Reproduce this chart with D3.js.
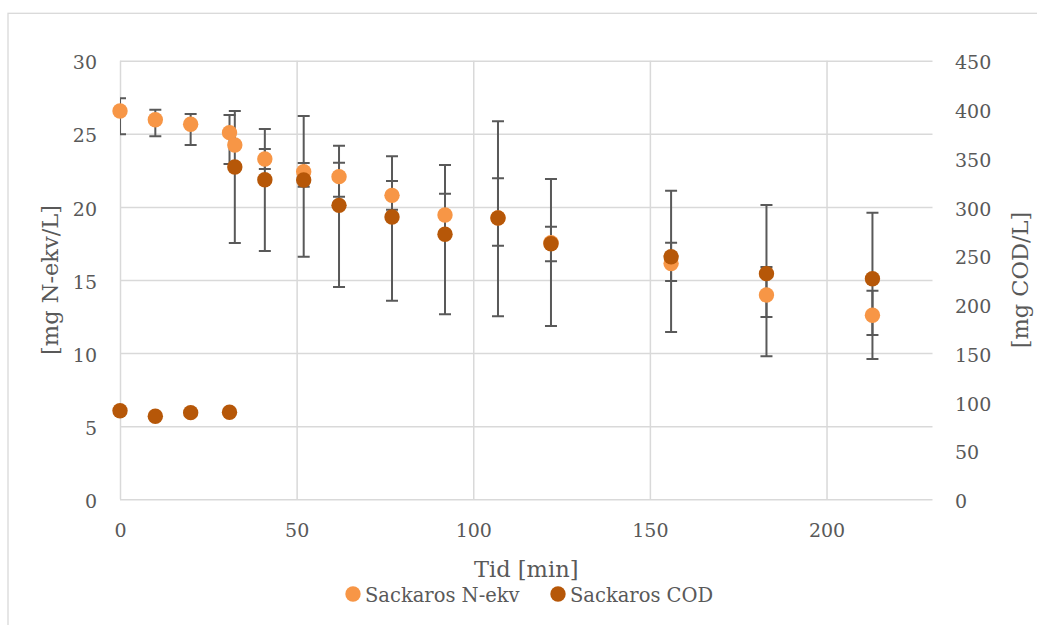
<!DOCTYPE html>
<html>
<head>
<meta charset="utf-8">
<script src="https://cdn.jsdelivr.net/npm/d3@7"></script>
<style>
  html, body { margin: 0; padding: 0; background: #fff; }
  svg { display: block; }
  text { font-family: "DejaVu Serif", "Liberation Serif", serif; fill: #595959; }
</style>
</head>
<body>
<svg id="chart" width="1037" height="625"></svg>
<script>
// Sampling times [min]
const times = [0, 10, 20, 31, 32.5, 41, 52, 62, 77, 92, 107, 122, 156, 183, 213];

// Sackaros N-ekv [mg N-ekv/L] with upper / lower error amounts
const nEkv        = [26.56, 25.96, 25.65, 25.08, 24.23, 23.28, 22.41, 22.07, 20.79, 19.45, 19.25, 17.55, 16.13, 13.97, 12.59];
const nEkvErrPlus = [0.87, 0.69, 0.70, 1.21, null, 0.68, 0.59, 0.95, 0.98, 1.45, 2.71, 1.10, 1.42, 1.92, 1.68];
const nEkvErrMin  = [1.59, 1.13, 1.42, 2.15, null, 0.68, 1.03, 1.37, 0.98, 1.45, 1.90, 1.27, 1.20, 1.50, 1.35];

// Sackaros COD [mg COD/L] with upper / lower error amounts
const cod        = [90.9, 85.2, 88.9, 89.3, 340.9, 327.9, 327.6, 301.6, 289.6, 271.9, 288.6, 262.2, 248.9, 231.5, 226.3];
const codErrPlus = [null, null, null, null, 57.5, 52.0, 65.7, 61.2, 62.3, 71.1, 99.2, 66.4, 67.7, 70.4, 67.8];
const codErrMin  = [null, null, null, null, 77.9, 73.2, 78.7, 83.8, 85.8, 82.1, 100.8, 84.4, 77.3, 84.8, 82.4];

// Axis ticks
const xTicks = [0, 50, 100, 150, 200];
const yLeftTicks = [0, 5, 10, 15, 20, 25, 30];
const yRightTicks = [0, 50, 100, 150, 200, 250, 300, 350, 400, 450];

const seriesNames = ["Sackaros N-ekv", "Sackaros COD"];
const colors = ["#F79646", "#B65708"];

const svg = d3.select("#chart");
const plot = { left: 120, right: 932.5, top: 60.7, bottom: 499.3 };

// Chart frame
svg.append("rect")
  .attr("x", 8).attr("y", 13.3).attr("width", 1100).attr("height", 700)
  .attr("fill", "#fff").attr("stroke", "#d9d9d9").attr("stroke-width", 1.3);

const x = d3.scaleLinear().domain([0, 230]).range([plot.left, plot.right]);
const yL = d3.scaleLinear().domain([0, 30]).range([plot.bottom, plot.top]);
const yR = d3.scaleLinear().domain([0, 450]).range([plot.bottom, plot.top]);

const gridColor = "#d9d9d9";

// Horizontal gridlines
svg.append("g")
  .attr("transform", `translate(${plot.left},0)`)
  .call(d3.axisLeft(yL).tickValues(yLeftTicks).tickSize(-(plot.right - plot.left)).tickFormat(""))
  .call(g => g.select(".domain").remove())
  .call(g => g.selectAll("line").attr("stroke", gridColor).attr("stroke-width", 1.5));

// Vertical gridlines
svg.append("g")
  .attr("transform", `translate(0,${plot.bottom})`)
  .call(d3.axisBottom(x).tickValues(xTicks).tickSize(-(plot.bottom - plot.top)).tickFormat(""))
  .call(g => g.select(".domain").remove())
  .call(g => g.selectAll("line").attr("stroke", gridColor).attr("stroke-width", 1.5));

// Tick labels
const tickFont = 19;
svg.append("g")
  .attr("transform", `translate(${plot.left},0)`)
  .call(d3.axisLeft(yL).tickValues(yLeftTicks).tickSize(0).tickPadding(23))
  .call(g => g.select(".domain").remove())
  .call(g => g.selectAll("text").attr("font-size", tickFont).attr("dy", "0.43em")
    .style("font-family", '"DejaVu Serif", serif').attr("fill", "#595959"));

svg.append("g")
  .attr("transform", `translate(${plot.right},0)`)
  .call(d3.axisRight(yR).tickValues(yRightTicks).tickSize(0).tickPadding(22.5))
  .call(g => g.select(".domain").remove())
  .call(g => g.selectAll("text").attr("font-size", tickFont).attr("dy", "0.43em")
    .style("font-family", '"DejaVu Serif", serif').attr("fill", "#595959"));

svg.append("g")
  .attr("transform", `translate(0,${plot.bottom})`)
  .call(d3.axisBottom(x).tickValues(xTicks).tickSize(0).tickPadding(24))
  .call(g => g.select(".domain").remove())
  .call(g => g.selectAll("text").attr("font-size", tickFont)
    .style("font-family", '"DejaVu Serif", serif').attr("fill", "#595959"));

// Axis titles
svg.append("text")
  .attr("x", (plot.left + plot.right) / 2).attr("y", 576.7)
  .attr("text-anchor", "middle").attr("font-size", 22.5)
  .text("Tid [min]");

svg.append("text")
  .attr("transform", `translate(58,${(plot.top + plot.bottom) / 2}) rotate(-90)`)
  .attr("text-anchor", "middle").attr("font-size", 22.5)
  .text("[mg N-ekv/L]");

svg.append("text")
  .attr("transform", `translate(1028,${(plot.top + plot.bottom) / 2}) rotate(-90)`)
  .attr("text-anchor", "middle").attr("font-size", 22.5)
  .text("[mg COD/L]");

// Clip error bars to the plot area
svg.append("clipPath").attr("id", "plot-clip")
  .append("rect")
  .attr("x", plot.left).attr("y", plot.top)
  .attr("width", plot.right - plot.left).attr("height", plot.bottom - plot.top);

const errLayer = svg.append("g").attr("clip-path", "url(#plot-clip)");
const capHalf = 6;

function drawErrorBars(values, plus, minus, yScale) {
  const rows = times.map((t, i) => ({ t, v: values[i], p: plus[i], m: minus[i] }))
    .filter(d => d.p != null && d.m != null);
  const g = errLayer.append("g").attr("stroke", "#595959").attr("stroke-width", 2);
  rows.forEach(d => {
    const cx = x(d.t), yTop = yScale(d.v + d.p), yBot = yScale(d.v - d.m);
    g.append("line").attr("x1", cx).attr("x2", cx).attr("y1", yTop).attr("y2", yBot);
    g.append("line").attr("x1", cx - capHalf).attr("x2", cx + capHalf).attr("y1", yTop).attr("y2", yTop);
    g.append("line").attr("x1", cx - capHalf).attr("x2", cx + capHalf).attr("y1", yBot).attr("y2", yBot);
  });
}

drawErrorBars(nEkv, nEkvErrPlus, nEkvErrMin, yL);
drawErrorBars(cod, codErrPlus, codErrMin, yR);

// Markers
const r = 7.7;
svg.append("g").selectAll("circle")
  .data(times.map((t, i) => ({ t, v: nEkv[i] })))
  .join("circle")
  .attr("cx", d => x(d.t)).attr("cy", d => yL(d.v)).attr("r", r)
  .attr("fill", colors[0]);

svg.append("g").selectAll("circle")
  .data(times.map((t, i) => ({ t, v: cod[i] })))
  .join("circle")
  .attr("cx", d => x(d.t)).attr("cy", d => yR(d.v)).attr("r", r)
  .attr("fill", colors[1]);

// Legend
const legendItems = [
  { name: seriesNames[0], color: colors[0], cx: 353 },
  { name: seriesNames[1], color: colors[1], cx: 558 }
];
const legend = svg.append("g");
legendItems.forEach(item => {
  legend.append("circle").attr("cx", item.cx).attr("cy", 594).attr("r", r).attr("fill", item.color);
  legend.append("text").attr("x", item.cx + 12).attr("y", 601.5)
    .attr("font-size", 19.5).text(item.name);
});
</script>
</body>
</html>
